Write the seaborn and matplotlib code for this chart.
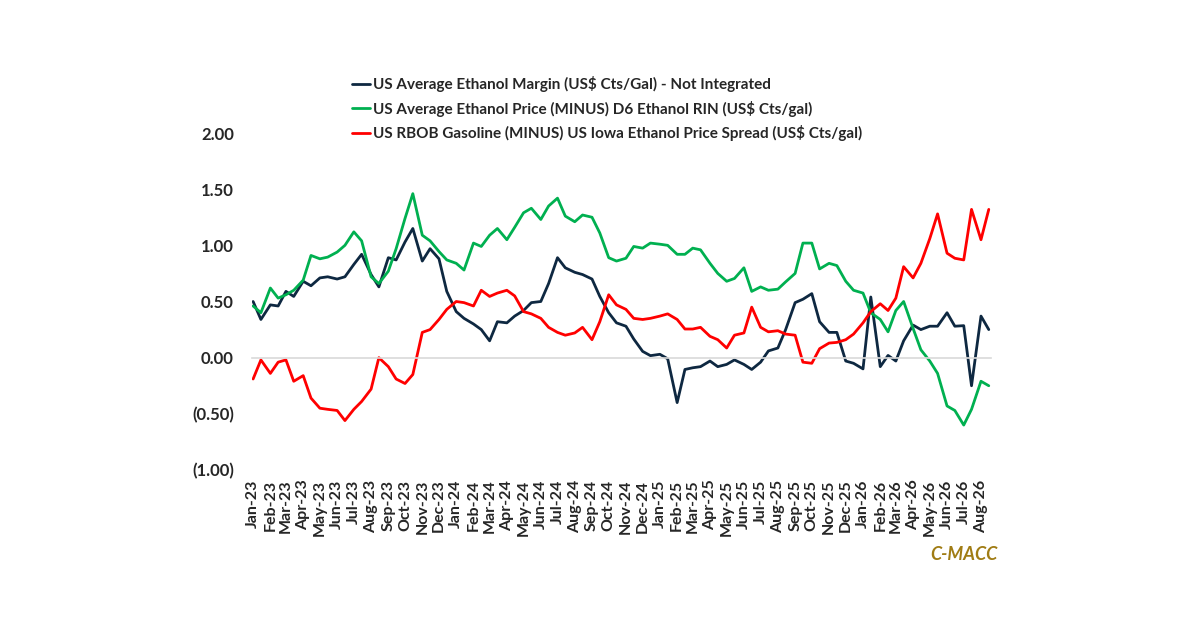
import matplotlib
matplotlib.use("Agg")
import matplotlib.pyplot as plt
import matplotlib.dates as mdates
import seaborn as sns
import pandas as pd
import numpy as np

# half-monthly readings, Jan-23 .. mid Aug-26
margin = [0.50, 0.34, 0.47, 0.46, 0.59, 0.545, 0.68, 0.64, 0.71, 0.72, 0.70, 0.72,
          0.83, 0.92, 0.74, 0.63, 0.89, 0.87, 1.03, 1.15, 0.86, 0.97, 0.88, 0.59,
          0.41, 0.35, 0.30, 0.25, 0.15, 0.32, 0.31, 0.37, 0.42, 0.49, 0.50, 0.66,
          0.89, 0.80, 0.76, 0.74, 0.70, 0.545, 0.40, 0.31, 0.28, 0.166, 0.056, 0.018,
          0.03, -0.01, -0.40, -0.105, -0.09, -0.08, -0.03, -0.08, -0.06, -0.02, -0.06, -0.105,
          -0.04, 0.06, 0.086, 0.25, 0.49, 0.52, 0.57, 0.32, 0.225, 0.225, -0.03, -0.05,
          -0.10, 0.54, -0.08, 0.02, -0.03, 0.15, 0.29, 0.25, 0.28, 0.28, 0.40, 0.28,
          0.285, -0.25, 0.37, 0.25]
price_minus_rin = [0.46, 0.40, 0.62, 0.53, 0.56, 0.60, 0.69, 0.91, 0.88, 0.895, 0.94, 1.00,
                   1.12, 1.04, 0.72, 0.66, 0.77, 0.97, 1.24, 1.46, 1.09, 1.04, 0.945, 0.87,
                   0.84, 0.78, 1.02, 0.99, 1.09, 1.15, 1.05, 1.16, 1.29, 1.33, 1.23, 1.35,
                   1.42, 1.26, 1.21, 1.27, 1.25, 1.11, 0.89, 0.86, 0.885, 0.99, 0.975, 1.02,
                   1.01, 1.00, 0.92, 0.92, 0.975, 0.96, 0.84, 0.75, 0.68, 0.705, 0.80, 0.59,
                   0.63, 0.60, 0.61, 0.675, 0.75, 1.02, 1.02, 0.79, 0.84, 0.82, 0.68, 0.60,
                   0.575, 0.40, 0.34, 0.23, 0.42, 0.50, 0.26, 0.07, -0.03, -0.14, -0.43, -0.47,
                   -0.60, -0.46, -0.21, -0.25]
rbob_spread = [-0.19, -0.02, -0.14, -0.04, -0.02, -0.21, -0.16, -0.36, -0.45, -0.46, -0.47, -0.56,
               -0.46, -0.39, -0.28, 0.00, -0.08, -0.19, -0.23, -0.15, 0.225, 0.25, 0.34, 0.43,
               0.50, 0.49, 0.46, 0.60, 0.545, 0.575, 0.60, 0.55, 0.41, 0.39, 0.35, 0.27,
               0.225, 0.20, 0.22, 0.27, 0.16, 0.32, 0.56, 0.47, 0.43, 0.35, 0.34, 0.35,
               0.37, 0.39, 0.34, 0.255, 0.255, 0.27, 0.19, 0.16, 0.086, 0.20, 0.22, 0.45,
               0.27, 0.23, 0.24, 0.21, 0.20, -0.04, -0.05, 0.08, 0.13, 0.136, 0.16, 0.21,
               0.31, 0.41, 0.48, 0.42, 0.53, 0.81, 0.71, 0.84, 1.06, 1.28, 0.93, 0.885,
               0.87, 1.32, 1.05, 1.32]

series_names = ["US Average Ethanol Margin (US$ Cts/Gal) - Not Integrated",
                "US Average Ethanol Price (MINUS) D6 Ethanol RIN (US$ Cts/gal)",
                "US RBOB Gasoline (MINUS) US Iowa Ethanol Price Spread (US$ Cts/gal)"]
colors = ["#0E2841", "#00B050", "#FF0000"]
y_ticks = [2.0, 1.5, 1.0, 0.5, 0.0, -0.5, -1.0]

dates = pd.date_range("2023-01-01", periods=len(margin), freq="SMS")
df = pd.DataFrame({"date": dates, series_names[0]: margin,
                   series_names[1]: price_minus_rin, series_names[2]: rbob_spread})
long_df = df.melt(id_vars="date", var_name="series", value_name="value")

sns.set_style("white")
plt.rcParams["font.family"] = ["Lato", "DejaVu Sans"]
plt.rcParams["font.weight"] = "bold"

fig = plt.figure(figsize=(12, 6.27), dpi=100)
ax = fig.add_axes([252 / 1200, 1 - 470 / 627, (991 - 252) / 1200, (470 - 133) / 627])

sns.lineplot(data=long_df, x="date", y="value", hue="series",
             palette=dict(zip(series_names, colors)), linewidth=2.0, ax=ax)

ax.set_ylim(-1.0, 2.0)
ax.set_xlim(pd.Timestamp("2022-12-30"), pd.Timestamp("2026-08-19"))
ax.set_xlabel("")
ax.set_ylabel("")

for side in ["top", "right", "left"]:
    ax.spines[side].set_visible(False)
ax.spines["bottom"].set_position(("data", 0))
ax.spines["bottom"].set_color("#d9d9d9")
ax.spines["bottom"].set_linewidth(1.2)

ax.xaxis.set_major_locator(mdates.MonthLocator())
ax.tick_params(axis="x", direction="out", length=5, width=1.2, color="#d9d9d9",
               labelbottom=False)

sec = ax.secondary_xaxis("bottom")
sec.xaxis.set_major_locator(mdates.MonthLocator())
sec.xaxis.set_major_formatter(mdates.DateFormatter("%b-%y"))
sec.spines["bottom"].set_visible(False)
sec.tick_params(axis="x", length=0, pad=7, labelsize=11.5, rotation=90)
for lab in sec.get_xticklabels():
    lab.set_fontweight("bold")

ax.set_yticks(y_ticks)
ax.set_yticklabels([f"{v:.2f}" if v >= 0 else f"({abs(v):.2f})" for v in y_ticks],
                   fontsize=12, fontweight="bold")
ax.tick_params(axis="y", length=0, pad=13)

handles, labels = ax.get_legend_handles_labels()
leg = ax.legend(handles, labels, loc="upper left",
                bbox_to_anchor=(352 / 1200, 1 - 76 / 627), bbox_transform=fig.transFigure,
                frameon=False, fontsize=11, handlelength=1.2, handletextpad=0.15,
                labelspacing=0.56, borderpad=0, borderaxespad=0)
for t in leg.get_texts():
    t.set_fontweight("bold")

fig.text(998 / 1200, 1 - 555 / 627, "C-MACC", ha="right", va="center", fontsize=13,
         fontweight="bold", fontstyle="italic", color="#A07C14")

fig.savefig("out.png", dpi=100)
